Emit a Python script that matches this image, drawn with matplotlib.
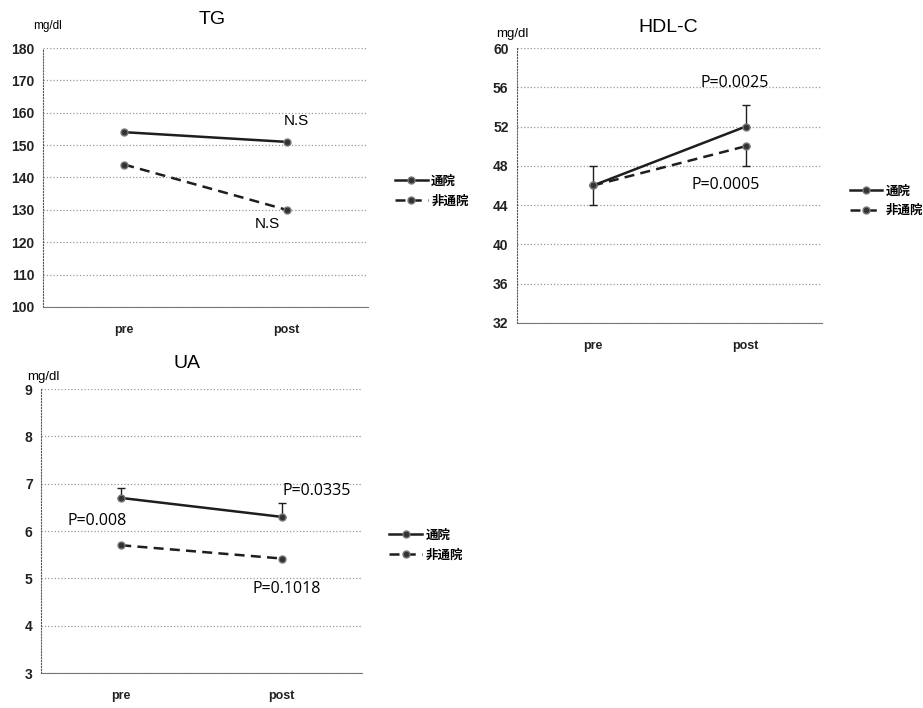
import numpy as np
import matplotlib
matplotlib.use("Agg")
import matplotlib.pyplot as plt
from matplotlib.lines import Line2D

plt.rcParams['font.family'] = ['Liberation Sans', 'Noto Sans CJK JP', 'DejaVu Sans']

# ---------------------------------------------------------------
# Datos
# ---------------------------------------------------------------
momentos = ['pre', 'post']
grupos = ['通院', '非通院']

tg_tsuin = [154, 151]
tg_hitsuin = [144, 130]

hdl_tsuin = [46, 52]
hdl_hitsuin = [46, 50]
hdl_err_tsuin_up = [2.0, 2.2]
hdl_err_tsuin_low = [2.0, 0.0]
hdl_err_hitsuin_up = [0.0, 0.0]
hdl_err_hitsuin_low = [0.0, 2.0]

ua_tsuin = [6.7, 6.3]
ua_hitsuin = [5.7, 5.42]
ua_err_tsuin_up = [0.2, 0.3]

COL = '#1e1e1e'
GRID = '#9a9a9a'
DASH = (0, (4, 2.5))
MARK = dict(marker='o', markersize=5, markerfacecolor='#333333',
            markeredgecolor='#777777')


def estilo_ejes(ax, ylim, yticks):
    ax.set_xlim(-0.5, 1.5)
    ax.set_ylim(*ylim)
    ax.set_yticks(yticks)
    ax.set_xticks([0, 1])
    ax.set_xticklabels(momentos, fontsize=9, fontweight='bold', color='#222222')
    ax.tick_params(axis='y', labelsize=10, length=0, pad=6, labelcolor='#222222')
    ax.tick_params(axis='x', length=0, pad=12)
    for lab in ax.get_yticklabels():
        lab.set_fontweight('bold')
    ax.grid(axis='y', linestyle=':', color=GRID, linewidth=0.9)
    ax.set_axisbelow(True)
    ax.spines['top'].set_visible(False)
    ax.spines['right'].set_visible(False)
    ax.spines['left'].set_linestyle(':')
    ax.spines['left'].set_color('#555555')
    ax.spines['bottom'].set_color('#777777')


def dibujar(ax, y1, y2, err1=None, err2=None):
    kw = dict(color=COL, linewidth=1.8, capsize=3, elinewidth=1, ecolor=COL, **MARK)
    x = np.arange(len(momentos))
    ax.errorbar(x, y1, yerr=err1, linestyle='-', **kw)
    ax.errorbar(x, y2, yerr=err2, linestyle=DASH, **kw)


def leyenda(ax, x0, yc):
    handles = [Line2D([], [], color=COL, linewidth=1.8, linestyle='-', **MARK),
               Line2D([], [], color=COL, linewidth=1.8, linestyle=DASH, **MARK)]
    ax.legend(handles, grupos, loc='center left', bbox_to_anchor=(x0, yc),
              frameon=False,
              prop={'family': ['Noto Sans CJK JP'], 'size': 9, 'weight': 'bold'},
              handlelength=2.6, handletextpad=0.3, labelspacing=0.55,
              borderaxespad=0)


fig = plt.figure(figsize=(9.23, 7.08), dpi=100)

# ---------------------------------------------------------------
# TG
# ---------------------------------------------------------------
ax1 = fig.add_axes([0.0466, 0.5664, 0.352, 0.3658])
estilo_ejes(ax1, (100, 180), np.arange(100, 181, 10))
dibujar(ax1, tg_tsuin, tg_hitsuin)
ax1.text(1.06, 157.5, 'N.S', fontsize=11, ha='center', va='center')
ax1.text(0.88, 125.5, 'N.S', fontsize=11, ha='center', va='center')
fig.text(212 / 923, 1 - 20 / 708, 'TG', fontsize=14, ha='center', va='center')
fig.text(48 / 923, 1 - 26 / 708, 'mg/dl', fontsize=8.5, ha='center', va='center')
leyenda(ax1, 1.068, 0.448)

# ---------------------------------------------------------------
# HDL-C
# ---------------------------------------------------------------
ax2 = fig.add_axes([0.560, 0.5438, 0.3305, 0.3884])
estilo_ejes(ax2, (32, 60), np.arange(32, 61, 4))
dibujar(ax2, hdl_tsuin, hdl_hitsuin,
        [hdl_err_tsuin_low, hdl_err_tsuin_up],
        [hdl_err_hitsuin_low, hdl_err_hitsuin_up])
ax2.text(0.93, 56.4, 'P=0.0025', fontsize=11.5, ha='center', va='center',
         family=['Open Sans'])
ax2.text(0.87, 46.1, 'P=0.0005', fontsize=11.5, ha='center', va='center',
         family=['Open Sans'])
fig.text(668 / 923, 1 - 27 / 708, 'HDL-C', fontsize=14, ha='center', va='center')
fig.text(512 / 923, 1 - 34 / 708, 'mg/dl', fontsize=9.5, ha='center', va='center')
leyenda(ax2, 1.075, 0.444)

# ---------------------------------------------------------------
# UA
# ---------------------------------------------------------------
ax3 = fig.add_axes([0.0444, 0.0494, 0.3478, 0.401])
estilo_ejes(ax3, (3, 9), np.arange(3, 10, 1))
dibujar(ax3, ua_tsuin, ua_hitsuin, [[0, 0], ua_err_tsuin_up], None)
ax3.text(1.22, 6.85, 'P=0.0335', fontsize=11.5, ha='center', va='center',
         family=['Open Sans'])
ax3.text(-0.15, 6.22, 'P=0.008', fontsize=11.5, ha='center', va='center',
         family=['Open Sans'])
ax3.text(1.03, 4.78, 'P=0.1018', fontsize=11.5, ha='center', va='center',
         family=['Open Sans'])
fig.text(187 / 923, 1 - 364 / 708, 'UA', fontsize=14, ha='center', va='center')
fig.text(43 / 923, 1 - 377 / 708, 'mg/dl', fontsize=9.5, ha='center', va='center')
leyenda(ax3, 1.07, 0.45)

fig.savefig('out.png', dpi=100)
